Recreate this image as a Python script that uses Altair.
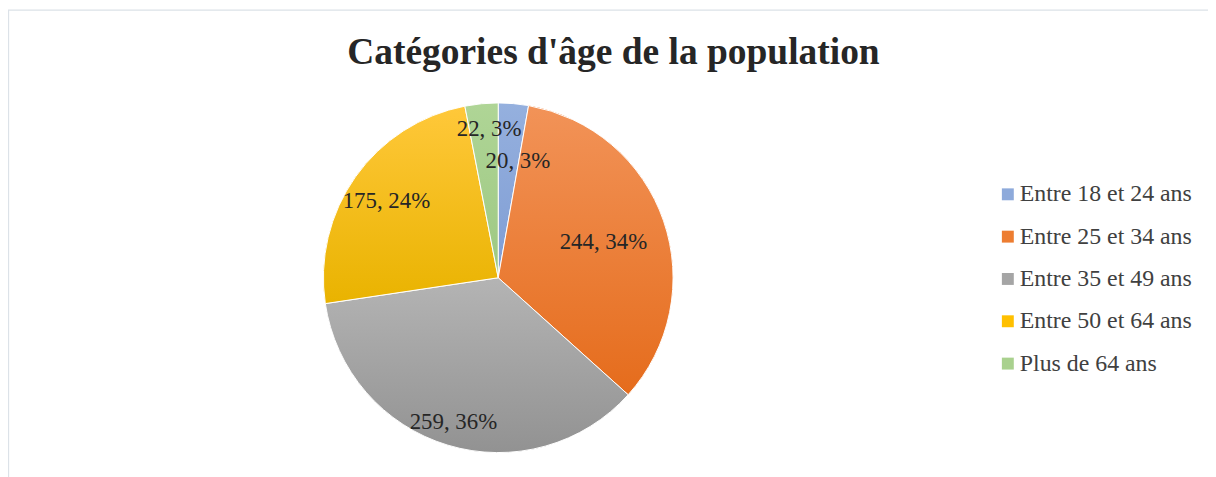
import altair as alt
import pandas as pd

# ---- data ----
categories = ["Entre 18 et 24 ans", "Entre 25 et 34 ans", "Entre 35 et 49 ans",
              "Entre 50 et 64 ans", "Plus de 64 ans"]
values = [20, 244, 259, 175, 22]
title_text = "Catégories d'âge de la population"

# ---- styles ----
base_colors = ["#8EAADB", "#ED7D31", "#A5A5A5", "#FFC000", "#A9D18E"]
grad_top = ["#95B0DE", "#F29358", "#B4B4B4", "#FFC83A", "#AFD596"]
grad_bottom = ["#7F9DD4", "#E56C1C", "#929292", "#E9B300", "#9DC882"]
label_radius = [120, 112, 152, 137, 150]
label_nudge = [9, 0, 1, -1, 4]   # angular nudge of label placement (value units)

PAD_TOP = 80
XS = 3.5
CX, CY, R = 490 + XS, 190, 176
SERIF = "Liberation Serif, Times New Roman, serif"

total = sum(values)
df = pd.DataFrame({
    "cat": categories,
    "value": values,
    "order": list(range(len(categories))),
    "label": [f"{v}, {round(100 * v / total)}%" for v in values],
    "label_r": label_radius,
    "nudge": label_nudge,
})


def grad(top, bottom):
    return {
        "gradient": "linear",
        "x1": 0, "y1": 0, "x2": 0, "y2": 1,
        "stops": [{"offset": 0, "color": top}, {"offset": 1, "color": bottom}],
    }


conds = [
    {"test": f"datum.cat === '{c}'", "value": grad(t, b)}
    for c, t, b in zip(categories[:-1], grad_top[:-1], grad_bottom[:-1])
]
fill_enc = {"condition": conds, "value": grad(grad_top[-1], grad_bottom[-1])}

theta = alt.Theta("value:Q", stack=True)
order = alt.Order("order:Q", sort="ascending")

legend_arcs = alt.Chart(df).mark_arc(outerRadius=R, strokeWidth=0).encode(
    theta=theta,
    order=order,
    x=alt.value(CX),
    y=alt.value(CY),
    color=alt.Color(
        "cat:N",
        scale=alt.Scale(domain=categories, range=base_colors),
        legend=alt.Legend(
            orient="none", legendX=991 + XS, legendY=94, title=None,
            symbolType="square", symbolSize=144, symbolStrokeWidth=0,
            labelFont=SERIF, labelFontSize=24, labelColor="#404040",
            rowPadding=18.6, labelOffset=0, labelLimit=400,
        ),
    ),
)

grad_arcs = alt.Chart(df).mark_arc(outerRadius=R, stroke="white", strokeWidth=1).encode(
    theta=theta,
    order=order,
    x=alt.value(CX),
    y=alt.value(CY),
    fill=fill_enc,
)

labels = alt.Chart(df).transform_window(
    cum="sum(value)", sort=[alt.SortField("order", order="ascending")],
    frame=[None, 0],
).transform_calculate(
    mid="datum.cum - datum.value / 2 + datum.nudge"
).mark_text(
    font=SERIF, fontSize=23, color="#262626", align="center", baseline="middle", dy=0.5
).encode(
    theta=alt.Theta("mid:Q", stack=None),
    x=alt.value(CX),
    y=alt.value(CY),
    radius=alt.Radius("label_r:Q", scale=None),
    text="label:N",
)

title = alt.Chart(pd.DataFrame({"t": [title_text]})).mark_text(
    font=SERIF, fontSize=37.7, fontWeight="bold", color="#262626",
    align="center", baseline="alphabetic",
).encode(
    x=alt.value(606 + XS), y=alt.value(-25), text="t:N",
)

border = alt.Chart(pd.DataFrame({"a": [0]})).mark_rect(
    filled=False, stroke="#DCE2E8", strokeWidth=1.3
).encode(
    x=alt.value(0.5), x2=alt.value(1240),
    y=alt.value(-PAD_TOP + 0.5), y2=alt.value(600),
)

chart = alt.layer(border, legend_arcs, grad_arcs, labels, title).properties(
    width=1208,
    height=469 - PAD_TOP,
    padding={"left": 0, "top": PAD_TOP, "right": 0, "bottom": 0},
    autosize=alt.AutoSizeParams(type="none"),
).configure(background="white").configure_view(stroke=None)

chart.save("out.html", embed_options={"renderer": "svg", "actions": False})
